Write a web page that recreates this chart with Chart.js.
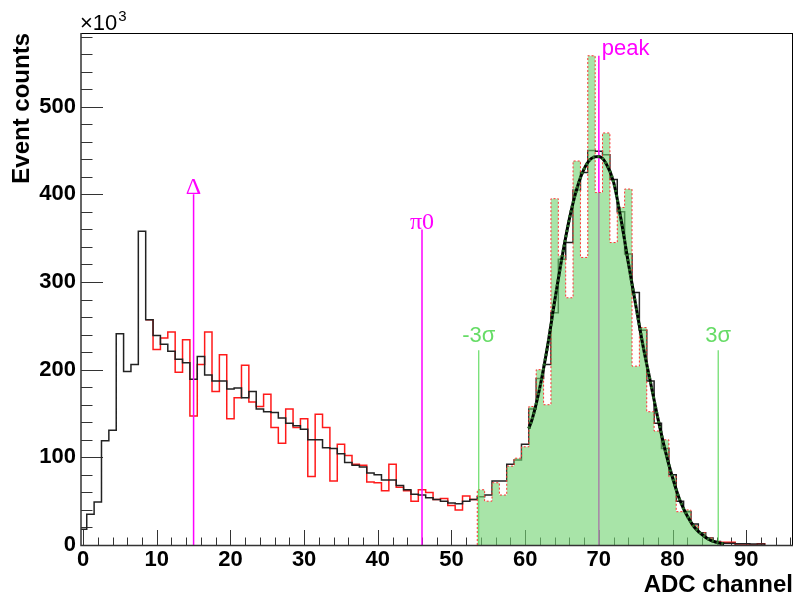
<!DOCTYPE html>
<html><head><meta charset="utf-8">
<script src="https://cdn.jsdelivr.net/npm/chart.js@4.4.1/dist/chart.umd.min.js"></script>
<style>html,body{margin:0;padding:0;background:#fff}#wrap{width:794px;height:600px}</style>
</head><body><div id="wrap"><canvas id="c" width="794" height="600"></canvas></div>
<script>
// ---------- data (counts in units of 10^3) ----------
const blackStart = 0;   // first bin centre of the black histogram
const blackCounts = [18,35,49,119,131,241,198,206,358,257,
  239,229,221,212,208,189,215,194,187,187,
  178,179,168,175,155,152,151,145,139,136,
  132,120,120,111,110,104,94,91,89,82,
  80,74,74,68,63,58,57,54,52,50,
  48,47,50,52,55,57,73,73,92,97,
  115,155,190,206,265,326,345,405,425,450,
  449,445,417,380,332,288,245,187,139,110,
  80,50,38,24,14,8,4,2,2,1.5,
  1.5,1,1];
const redStart = 9;
const redCounts = [257,223,236,243,197,234,147,206,243,175,217,
  144,168,205,163,158,172,134,116,155,134,
  144,78,149,134,73,115,102,92,91,72,
  71,62,92,66,62,50,63,60,52,53,
  45,40,56,52];
const peakStart = 54;
const peakCounts = [63,50,71,57,90,99,112,158,200,160,395,330,282,438,328,558,402,470,345,385,406,204,248,152,130,120,78,38,40,22,14,8,4];
const tailStart = 87;
const tailCounts = [3,3,0,0,0,1.5];
const fitX = [60.5,61,62,63,64,65,66,67,68,69,70,71,72,73,74,75,76,77,78,79,80,81,82,83,84,85,86,87];
const fitY = [133,145,180,225,278,328,372,406,429,441,443,435,414,372,322,274,227,186,145,108,77,51,33,20,12,6,3,1];
const markerNames = ['\u0394','\u03c00','peak','-3\u03c3','3\u03c3'];
const markerX = [15,46,70,53.7,86.2];
const markerTop = [400,360,558,222,222];
const xTickLabels = ['0','10','20','30','40','50','60','70','80','90'];
const yTickLabels = ['0','100','200','300','400','500'];

const MAGENTA = '#ff00ff', SIGGREEN = 'rgb(102,220,102)';
const SANS = '"Liberation Sans", Arial, Helvetica, sans-serif';
const SERIF = '"Liberation Serif", "Times New Roman", serif';

function stepPoints(start, counts, closeLeft, closeRight) {
  const pts = [];
  if (closeLeft) pts.push({x: start - 0.5, y: 0});
  counts.forEach((v, i) => pts.push({x: start + i - 0.5, y: v}));
  const end = start + counts.length - 0.5;
  pts.push({x: end, y: counts[counts.length - 1]});
  if (closeRight) pts.push({x: end, y: 0});
  return pts;
}

const canvas = document.getElementById('c');

const lineBase = {pointRadius: 0, tension: 0, fill: false};
const datasets = [
  Object.assign({}, lineBase, {label:'fitDots', data: fitX.map((x,i)=>({x, y: fitY[i]})), borderColor:'#2b6e2b', borderWidth:3, borderDash:[2,3], cubicInterpolationMode:'monotone', order:0}),
  Object.assign({}, lineBase, {label:'fit', data: fitX.map((x,i)=>({x, y: fitY[i]})), borderColor:'#000', borderWidth:3, cubicInterpolationMode:'monotone', order:1}),
];
markerNames.forEach((n, i) => {
  const isSig = i >= 3;
  datasets.push(Object.assign({}, lineBase, {label:n, data:[{x:markerX[i], y:0},{x:markerX[i], y:markerTop[i]}],
    borderColor: isSig ? SIGGREEN : MAGENTA, borderWidth: isSig ? 1.2 : 1.5, order: (i === 2) ? 4 : 2}));
});
datasets.push(Object.assign({}, lineBase, {label:'peakRegion', data: stepPoints(peakStart, peakCounts, true, true), stepped:true,
  fill:'origin', backgroundColor: 'rgba(115,212,115,0.62)', borderColor:'#ff3030', borderWidth:1, borderDash:[2,2], order:3}));
datasets.push(Object.assign({}, lineBase, {label:'black', data: stepPoints(blackStart, blackCounts, true, true), stepped:true,
  borderColor:'#222', borderWidth:1.5, order:5}));
datasets.push(Object.assign({}, lineBase, {label:'red', data: stepPoints(redStart, redCounts, false, false), stepped:true,
  borderColor:'#ff1a1a', borderWidth:1.5, order:6}));
datasets.push(Object.assign({}, lineBase, {label:'redTail', data: stepPoints(tailStart, tailCounts, false, true), stepped:true,
  borderColor:'#ff1a1a', borderWidth:1.5, order:6}));

const rootAxes = {
  id: 'rootAxes',
  beforeDatasetsDraw(chart) {
    const {ctx, chartArea: a, scales: {x, y}} = chart;
    ctx.save();
    ctx.strokeStyle = '#333'; ctx.lineWidth = 1;
    ctx.beginPath();
    for (let v = 0; v <= x.max + 1e-9; v += 2) {
      const px = Math.round(x.getPixelForValue(v)) + 0.5;
      const len = (v % 10 === 0) ? 15 : 7.5;
      ctx.moveTo(px, a.bottom); ctx.lineTo(px, a.bottom - len);
    }
    for (let v = 0; v <= y.max + 1e-9; v += 20) {
      const py = Math.round(y.getPixelForValue(v)) + 0.5;
      const len = (v % 100 === 0) ? 22 : 11.5;
      ctx.moveTo(a.left, py); ctx.lineTo(a.left + len, py);
    }
    ctx.stroke();
    ctx.restore();
  },
  afterDatasetsDraw(chart) {
    const {ctx, chartArea: a} = chart;
    ctx.save();
    ctx.strokeStyle = '#000'; ctx.lineWidth = 1;
    ctx.beginPath();
    ctx.moveTo(a.left, a.top + 0.5); ctx.lineTo(a.right, a.top + 0.5);
    ctx.moveTo(a.right - 0.5, a.top); ctx.lineTo(a.right - 0.5, a.bottom);
    ctx.stroke();
    ctx.strokeStyle = '#333'; ctx.lineWidth = 1.5;
    ctx.beginPath();
    ctx.moveTo(a.left, a.top); ctx.lineTo(a.left, a.bottom + 0.5);
    ctx.lineTo(a.right, a.bottom + 0.5);
    ctx.stroke();
    ctx.restore();
  },
  afterDraw(chart) {
    const {ctx, chartArea: a, scales: {x, y}} = chart;
    ctx.save();
    ctx.fillStyle = '#000'; ctx.textBaseline = 'alphabetic'; ctx.textAlign = 'left';
    ctx.font = '22px ' + SANS;
    ctx.fillText('\u00d710', a.left - 1, a.top - 3);
    const w = ctx.measureText('\u00d710').width;
    ctx.font = '15px ' + SANS;
    ctx.fillText('3', a.left - 1 + w + 1, a.top - 12);
    markerNames.forEach((n, i) => {
      const px = x.getPixelForValue(markerX[i]);
      const py = y.getPixelForValue(markerTop[i]);
      ctx.fillStyle = i >= 3 ? SIGGREEN : MAGENTA;
      ctx.textBaseline = 'alphabetic';
      if (i === 2) {
        ctx.font = '22px ' + SANS; ctx.textAlign = 'left';
        ctx.fillText(n, px + 3, py - 1);
      } else if (i < 2) {
        ctx.font = '24px ' + SERIF; ctx.textAlign = 'center';
        ctx.fillText(n, px, py);
      } else {
        ctx.font = '22px ' + SANS; ctx.textAlign = 'center';
        ctx.fillText(n, px, py - 8);
      }
    });
    ctx.restore();
  }
};

new Chart(canvas, {
  type: 'line',
  data: {datasets},
  options: {
    responsive: false, animation: false, events: [],
    layout: {padding: {left: 0, right: 1, top: 33, bottom: 0}},
    plugins: {legend: {display: false}, tooltip: {enabled: false}},
    scales: {
      x: {
        type: 'linear', min: -0.28, max: 96.35,
        afterFit: s => { s.height = 55; },
        grid: {display: false, drawTicks: false}, border: {display: false},
        ticks: {stepSize: 10, includeBounds: false, autoSkip: false, maxRotation: 0, padding: 2,
          color: '#000', font: {family: SANS, size: 22, weight: 'bold'},
          callback: v => xTickLabels.includes(String(v)) ? String(v) : ''},
        title: {display: true, text: 'ADC channel', align: 'end', color: '#000',
          font: {family: SANS, size: 24, weight: 'bold'}, padding: {top: 0, bottom: 0}}
      },
      y: {
        type: 'linear', min: 0, max: 584,
        afterFit: s => { s.width = 81; },
        grid: {display: false, drawTicks: false}, border: {display: false},
        ticks: {stepSize: 100, includeBounds: false, autoSkip: false, padding: 5,
          color: '#000', font: {family: SANS, size: 22, weight: 'bold'},
          callback: v => yTickLabels.includes(String(v)) ? String(v) : ''},
        title: {display: true, text: 'Event counts', align: 'end', color: '#000',
          font: {family: SANS, size: 24, weight: 'bold'}, padding: {top: 8, bottom: 0}}
      }
    }
  },
  plugins: [rootAxes]
});
</script></body></html>
